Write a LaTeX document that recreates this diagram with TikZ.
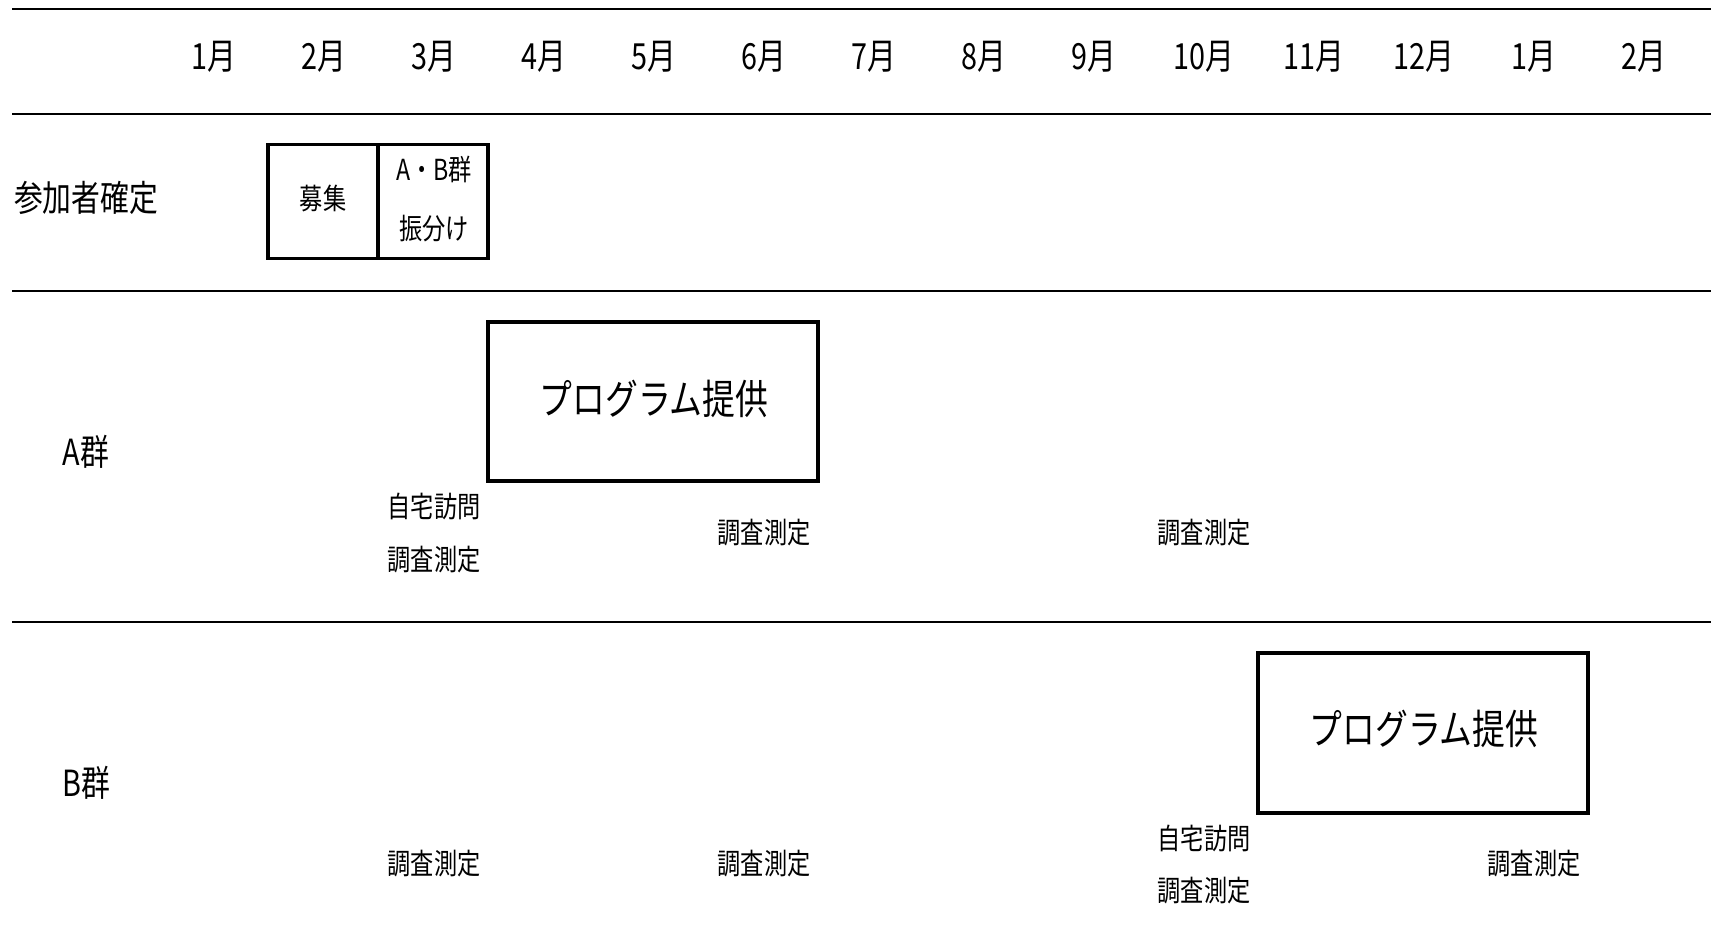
\documentclass[tikz,border=0pt]{standalone}
\usepackage{fontspec}
\setmainfont{Noto Sans CJK JP}[FakeStretch=0.8]
\newfontfamily\jp{Noto Sans CJK JP}[FakeStretch=0.8]
\begin{document}
\begin{tikzpicture}[x=1pt,y=-1pt,
  rule/.style={line width=2.5pt},
  cell/.style={draw, line width=3.5pt, minimum width=110pt, minimum height=114pt, inner sep=0pt},
  prog/.style={draw, line width=4pt, inner sep=0pt},
  mon/.style={inner sep=0pt, font=\jp\fontsize{36}{40}\selectfont},
  lab/.style={inner sep=0pt, font=\jp\fontsize{36}{40}\selectfont},
  sm/.style={inner sep=0pt, font=\jp\fontsize{29}{32}\selectfont},
  big/.style={inner sep=0pt, font=\jp\fontsize{41}{46}\selectfont}]
\useasboundingbox (0,0) rectangle (1711,952);
% horizontal rules
\coordinate (l1a) at (12,9);   \coordinate (l1b) at (1711,9);
\coordinate (l2a) at (12,114); \coordinate (l2b) at (1711,114);
\coordinate (l3a) at (12,291); \coordinate (l3b) at (1711,291);
\coordinate (l4a) at (12,622); \coordinate (l4b) at (1711,622);
\draw[rule] (l1a) -- (l1b);
\draw[rule] (l2a) -- (l2b);
\draw[rule] (l3a) -- (l3b);
\draw[rule] (l4a) -- (l4b);
% months
\foreach \m [count=\i from 0] in {1,2,3,4,5,6,7,8,9,10,11,12,1,2}
  \node[mon] (m\i) at (213.5+110*\i,57) {\m 月};
% row labels
\node[lab, anchor=west] (r1) at (14,198) {参加者確定};
\node[lab] (r2) at (86,452) {A群};
\node[lab] (r3) at (86,783) {B群};
% participant boxes
\node[cell] (boshu) at (323,201.5) {};
\node[cell] (furi) at (433,201.5) {};
\node[sm] (boshuT) at (323,199) {募集};
\node[sm] (furiT1) at (434,169) {A・B群};
\node[sm] (furiT2) at (434,229) {振分け};
% A group
\node[prog, minimum width=330pt, minimum height=159pt] (pa) at (653,401.5) {};
\node[big] (paT) at (654,399) {プログラム提供};
\node[sm] (a1) at (434,506) {自宅訪問};
\node[sm] (a2) at (434,560) {調査測定};
\node[sm] (a3) at (764,533) {調査測定};
\node[sm] (a4) at (1204,533) {調査測定};
% B group
\node[prog, minimum width=330pt, minimum height=160pt] (pb) at (1423,732.5) {};
\node[big] (pbT) at (1424,729) {プログラム提供};
\node[sm] (b1) at (434,864) {調査測定};
\node[sm] (b2) at (764,864) {調査測定};
\node[sm] (b3) at (1204,838) {自宅訪問};
\node[sm] (b4) at (1204,891) {調査測定};
\node[sm] (b5) at (1534,864) {調査測定};
\end{tikzpicture}
\end{document}
